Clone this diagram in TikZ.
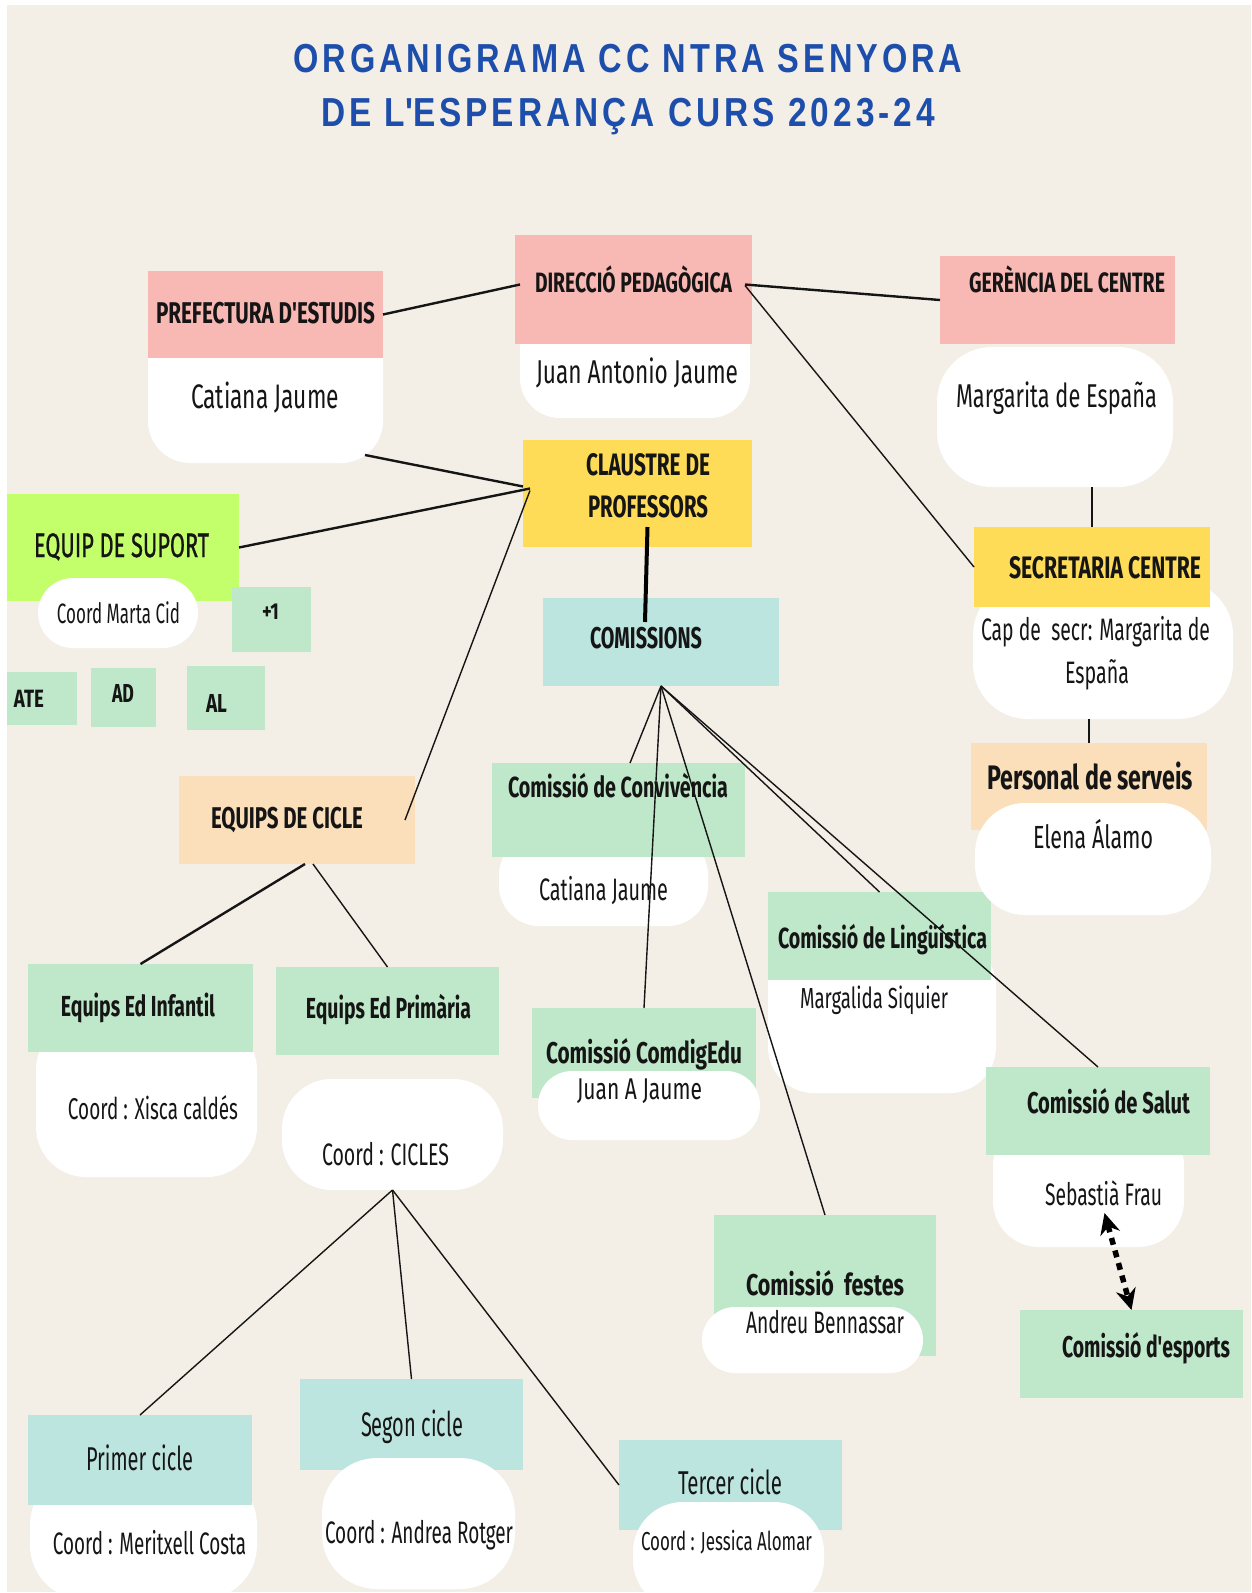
\documentclass[tikz,border=0pt]{standalone}
\usepackage{fontspec}
\usepackage{graphicx}
\setmainfont{Fira Sans}
\newfontfamily\medfont{Fira Sans}[FakeBold=1]
\newfontfamily\titlefont{Liberation Sans}[LetterSpace=12]
\usetikzlibrary{calc,arrows.meta}
\definecolor{bg}{HTML}{F3EFE6}
\definecolor{pinkc}{HTML}{F8B9B5}
\definecolor{yellowc}{HTML}{FEDC58}
\definecolor{limec}{HTML}{C3FE6B}
\definecolor{greenc}{HTML}{BFE7C9}
\definecolor{tealc}{HTML}{BDE5DF}
\definecolor{peachc}{HTML}{FADFBA}
\definecolor{titlec}{HTML}{1D4EAC}
\definecolor{ink}{HTML}{151515}
\tikzset{
  box/.style={rectangle, inner sep=0pt, outer sep=0pt, draw=none},
  blob/.style={rectangle, rounded corners=#1, fill=white, inner sep=0pt, outer sep=0pt, draw=none},
  txt/.style={text=ink, inner sep=0pt, outer sep=0pt, anchor=base},
  link/.style={draw=ink, line width=1.4pt},
  linkm/.style={draw=ink, line width=2.4pt},
  linkt/.style={draw=black, line width=4pt},
  dasharrow/.style={draw=black, line width=5.5pt, dash pattern=on 7pt off 6pt,
    {Stealth[length=21pt,width=20pt]}-{Stealth[length=21pt,width=20pt]}},
}
\newcommand\mkbox[6]{\node[box, fill=#6, minimum width={#4-#2}, minimum height={#5-#3}] (#1) at ({(#2+#4)/2},{(#3+#5)/2}) {};}
\newcommand\mkblob[6]{\node[blob=#6pt, minimum width={#4-#2}, minimum height={#5-#3}] (#1) at ({(#2+#4)/2},{(#3+#5)/2}) {};}
\newcommand\tx[7]{\node[txt, font=#1\fontsize{#6}{#6}\selectfont] (#2) at (#3,#4) {\resizebox{#5pt}{\height}{#7}};}
\begin{document}
\begin{tikzpicture}[x=1pt,y=-1pt]
\useasboundingbox (0,0) rectangle (1251,1593);
\clip (0,0) rectangle (1251,1593);
\fill[white] (0,0) rectangle (1251,1593);
\fill[bg] (7,5) rectangle (1251,1592);

% title
\node[txt, text=titlec, font=\titlefont\bfseries\fontsize{40.5}{40.5}\selectfont] (title1) at (628,72) {\resizebox{669pt}{\height}{ORGANIGRAMA CC NTRA SENYORA}};
\node[txt, text=titlec, font=\titlefont\bfseries\fontsize{40.5}{40.5}\selectfont] (title2) at (628,126) {\resizebox{614pt}{\height}{DE L\textquotesingle ESPERANÇA CURS 2023-24}};

% blobs under boxes
\mkblob{wpref}{148}{320}{383}{463}{42}
\mkblob{wdir}{520}{310}{750}{418}{40}
\mkblob{wger}{937}{347}{1173}{487}{55}
\mkblob{wsec}{973}{580}{1233}{719}{55}
\mkblob{wconv}{499}{835}{708}{926}{40}
\mkblob{wling}{768}{940}{996}{1093}{46}
\mkblob{winf}{36}{1020}{257}{1177}{50}
\mkblob{wpri}{282}{1079}{503}{1190}{50}
\mkblob{wsal}{993}{1120}{1184}{1247}{46}
\mkblob{wc1}{30}{1470}{257}{1600}{55}

% boxes
\mkbox{pref}{148}{271}{383}{358}{pinkc}
\mkbox{dir}{515}{235}{752}{344}{pinkc}
\mkbox{ger}{940}{256}{1175}{344}{pinkc}
\mkbox{cla}{523}{440}{752}{547}{yellowc}
\mkbox{sup}{7}{494}{239}{601}{limec}
\mkbox{plus}{232}{587}{311}{652}{greenc}
\mkbox{ate}{7}{672}{77}{725}{greenc}
\mkbox{ad}{91}{668}{156}{727}{greenc}
\mkbox{al}{187}{666}{265}{730}{greenc}
\mkbox{com}{543}{598}{779}{686}{tealc}
\mkbox{sec}{974}{527}{1210}{607}{yellowc}
\mkbox{per}{971}{743}{1207}{830}{peachc}
\mkbox{cic}{179}{776}{415}{864}{peachc}
\mkbox{conv}{492}{763}{745}{857}{greenc}
\mkbox{ling}{768}{892}{991}{980}{greenc}
\mkbox{inf}{28}{964}{253}{1052}{greenc}
\mkbox{pri}{276}{967}{499}{1055}{greenc}
\mkbox{cdg}{532}{1008}{756}{1098}{greenc}
\mkbox{sal}{986}{1067}{1210}{1155}{greenc}
\mkbox{fes}{714}{1215}{936}{1356}{greenc}
\mkbox{esp}{1020}{1310}{1243}{1398}{greenc}
\mkbox{c1}{28}{1415}{252}{1505}{tealc}
\mkbox{c2}{300}{1379}{523}{1470}{tealc}
\mkbox{c3}{619}{1440}{842}{1530}{tealc}

% blobs over boxes
\mkblob{wper}{975}{803}{1211}{915}{50}
\mkblob{wmc}{38}{578}{198}{648}{35}
\mkblob{wcdg}{538}{1071}{760}{1140}{34}
\mkblob{wfes}{702}{1307}{923}{1373}{33}
\mkblob{wc2}{322}{1458}{515}{1589}{55}
\mkblob{wc3}{633}{1502}{824}{1610}{50}

% box titles
\tx{\bfseries}{tpref}{265.5}{323}{219}{30}{PREFECTURA D\textquotesingle ESTUDIS}
\tx{\bfseries}{tdir}{633.5}{292}{197}{28}{DIRECCIÓ PEDAGÒGICA}
\tx{\bfseries}{tger}{1067}{292}{196}{28}{GERÈNCIA DEL CENTRE}
\tx{\bfseries}{tcla1}{648}{475}{124}{31}{CLAUSTRE DE}
\tx{\bfseries}{tcla2}{648}{517}{120}{31}{PROFESSORS}
\tx{\medfont}{tsup}{121.5}{557}{175}{34}{EQUIP DE SUPORT}
\tx{\bfseries}{tcom}{646}{648}{112}{30}{COMISSIONS}
\tx{\bfseries}{tsec}{1105}{578}{192}{31}{SECRETARIA CENTRE}
\tx{\bfseries}{tcic}{287}{828}{152}{30}{EQUIPS DE CICLE}
\tx{\bfseries}{tplus}{270.5}{619}{17}{23}{+1}
\tx{\bfseries}{tate}{29}{707}{30}{25}{ATE}
\tx{\bfseries}{tad}{123}{702}{22}{26}{AD}
\tx{\bfseries}{tal}{216.5}{712}{21}{26}{AL}
\tx{\bfseries}{tconv}{618}{797}{220}{29}{Comissió de Convivència}
\tx{\bfseries}{tling}{882.5}{948}{209}{29}{Comissió de Lingüística}
\tx{\bfseries}{tinf}{138}{1016}{154}{29}{Equips Ed Infantil}
\tx{\bfseries}{tpri}{388.5}{1018}{165}{29}{Equips Ed Primària}
\tx{\bfseries}{tcdg}{644}{1063}{196}{30}{Comissió ComdigEdu}
\tx{\bfseries}{tsal}{1108.5}{1113}{163}{30}{Comissió de Salut}
\tx{\bfseries}{tfes}{825}{1295}{158}{30}{Comissió\ \ festes}
\tx{\bfseries}{tesp}{1146}{1357}{168}{30}{Comissió d\textquotesingle esports}
\tx{\bfseries}{tper}{1090}{789}{206}{34}{Personal de serveis}

% names
\tx{}{npref}{265}{408}{148}{34}{Catiana Jaume}
\tx{}{ndir}{637}{383}{202}{33}{Juan Antonio Jaume}
\tx{}{nger}{1056.5}{407}{201}{33}{Margarita de España}
\tx{}{nmc}{118.5}{623}{123}{28}{Coord Marta Cid}
\tx{}{nsec1}{1095.5}{640}{229}{31}{Cap de\ \ secr: Margarita de}
\tx{}{nsec2}{1097}{683}{64}{31}{España}
\tx{}{nper}{1093}{848}{120}{32}{Elena Álamo}
\tx{}{nconv}{603.5}{900}{129}{31}{Catiana Jaume}
\tx{}{nling}{874}{1008}{148}{29}{Margalida Siquier}
\tx{}{ninf}{153}{1119}{170}{30}{Coord : Xisca caldés}
\tx{}{npri}{385.5}{1165}{127}{31}{Coord : CICLES}
\tx{}{ncdg}{639.5}{1099}{125}{30}{Juan A Jaume}
\tx{}{nsal}{1103.5}{1205}{117}{31}{Sebastià Frau}
\tx{}{nfes}{825}{1333}{158}{31}{Andreu Bennassar}
\tx{}{tc1}{139.5}{1470}{107}{33}{Primer cicle}
\tx{}{tc2}{412}{1436}{102}{34}{Segon cicle}
\tx{}{tc3}{730}{1494}{104}{33}{Tercer cicle}
\tx{}{nc1}{149.5}{1554}{193}{31}{Coord : Meritxell Costa}
\tx{}{nc2}{419}{1543}{188}{31}{Coord : Andrea Rotger}
\tx{}{nc3}{726.5}{1550}{171}{26}{Coord : Jessica Alomar}

% connectors
\draw[linkm] (pref.east) -- ([xshift=5pt,yshift=5pt]dir.west);
\draw[linkm] ([xshift=-7pt,yshift=5pt]dir.east) -- (ger.west);
\draw[link] ([xshift=-7pt,yshift=4pt]dir.east) -- (sec.west);
\draw[linkm] ([xshift=-18pt,yshift=8pt]wpref.south east) -- ([yshift=7pt]cla.west);
\draw[linkm] (sup.east) -- ([xshift=7pt,yshift=5pt]cla.west);
\draw[link] ([xshift=7pt,yshift=3pt]cla.west) -- ([xshift=-10pt]cic.east);
\draw[linkt] ([xshift=10pt,yshift=20pt]cla.south) -- ([xshift=-16pt,yshift=-24pt]com.north);
\draw[link] (com.south) -- ([xshift=11.5pt]conv.north);
\draw[link] (com.south) -- (cdg.north);
\draw[link] (com.south) -- (fes.north);
\draw[link] (com.south) -- (ling.north);
\draw[link] (com.south) -- (sal.north);
\draw[link] (sec.north |- wger.south) -- (sec.north);
\draw[link] (per.north |- wsec.south) -- (per.north);
\draw[linkm] ([xshift=8pt]cic.south) -- (inf.north);
\draw[link] ([xshift=16pt]cic.south) -- (pri.north);
\draw[link] (wpri.south) -- (c1.north);
\draw[link] (wpri.south) -- (c2.north);
\draw[link] (wpri.south) -- (c3.west);
\draw[dasharrow] ([xshift=16pt,yshift=34pt]wsal.south) -- (esp.north);
\end{tikzpicture}
\end{document}
